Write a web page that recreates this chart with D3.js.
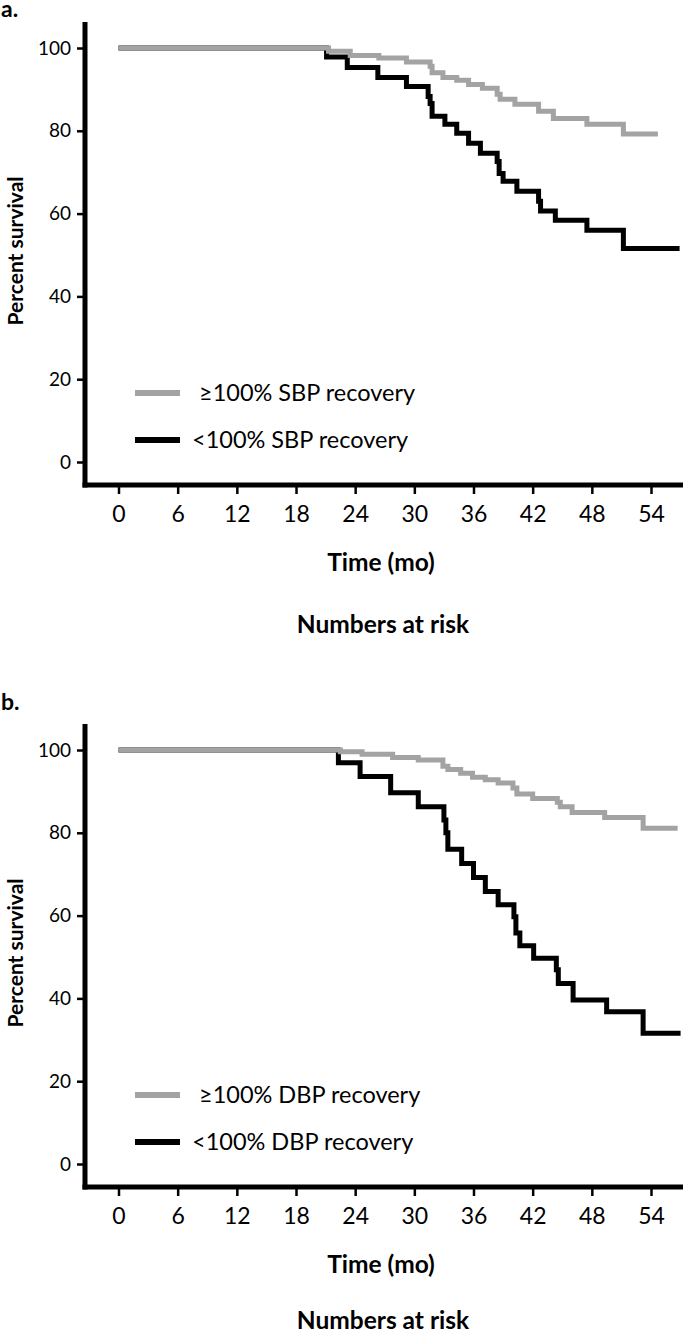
<!DOCTYPE html>
<html><head><meta charset="utf-8">
<script src="https://cdn.jsdelivr.net/npm/d3@7"></script>
<style>body{margin:0;background:#fff} svg{display:block} text{font-family:Lato,'Open Sans',sans-serif;fill:#000}</style>
</head><body><svg id="c" width="683" height="1334"></svg>
<script>
const monthTicks = [0,6,12,18,24,30,36,42,48,54];
const percentTicks = [0,20,40,60,80,100];

// Panel a: SBP recovery
const sbpHighTimes = [0,21.3,23.5,26.4,29.2,31.6,31.8,32.9,34.3,35.5,36.9,38.4,38.7,40.2,42.6,44.1,47.5,51.2,54.7];
const sbpHighValues = [100,99.2,98.2,97.6,96.6,95.6,94.0,92.9,92.2,91.2,90.3,88.8,87.6,86.4,84.7,83.0,81.6,79.2,79.2];
const sbpLowTimes = [0,21.1,23.2,26.3,29.2,31.4,31.6,31.8,33.1,34.3,35.5,36.7,38.4,38.6,39.0,40.4,42.6,42.8,44.3,47.5,51.2,56.9];
const sbpLowValues = [100,97.8,95.3,92.9,90.7,88.3,86.6,83.5,81.6,79.4,77.0,74.6,72.6,69.7,67.8,65.4,63.0,60.6,58.4,56.0,51.6,51.6];

// Panel b: DBP recovery
const dbpHighTimes = [0,22.5,24.7,27.8,30.4,32.9,33.4,34.7,35.9,37.2,38.5,40.0,40.4,42.0,44.5,44.8,46.0,49.3,53.2,56.7];
const dbpHighValues = [100,99.6,99.0,98.2,97.6,96.1,95.3,94.4,93.4,92.8,92.0,90.8,89.4,88.3,87.4,86.3,84.9,83.7,81.1,81.1];
const dbpLowTimes = [0,22.3,24.5,27.6,30.4,33.0,33.2,33.4,34.8,36.0,37.2,38.5,40.1,40.3,40.7,42.1,44.4,44.6,46.1,49.5,53.2,57.0];
const dbpLowValues = [100,96.9,93.6,89.7,86.3,83.1,80.0,76.0,72.6,69.2,65.8,62.6,59.7,55.8,52.7,49.7,46.9,43.6,39.6,36.8,31.6,31.6];

const GRAY = "#a3a3a3";
const svg = d3.select("#c");

function panel(oy, letter, letterBase, numbersBase, hiT, hiV, loT, loV, hiLabel, loLabel) {
  const g = svg.append("g").attr("transform", `translate(0,${oy})`);
  const x = d3.scaleLinear().domain([0,54]).range([118.5,651]);
  const y = d3.scaleLinear().domain([0,100]).range([462,48]);

  g.append("text").attr("x",1).attr("y",letterBase).attr("font-size",23).attr("font-weight","bold").text(letter);

  const xa = g.append("g").attr("transform","translate(0,485)")
    .call(d3.axisBottom(x).tickValues(monthTicks).tickSize(9).tickPadding(12).tickSizeOuter(0));
  xa.select(".domain").remove();
  xa.selectAll(".tick line").attr("stroke","#000").attr("stroke-width",2.5);
  xa.selectAll(".tick text").attr("font-size",23).attr("font-family","Lato");

  const ya = g.append("g").attr("transform","translate(85,0)")
    .call(d3.axisLeft(y).tickValues(percentTicks).tickSize(8).tickPadding(6).tickSizeOuter(0));
  ya.select(".domain").remove();
  ya.selectAll(".tick line").attr("stroke","#000").attr("stroke-width",2.5);
  ya.selectAll(".tick text").attr("font-size",19).attr("font-family","Lato");

  g.append("line").attr("x1",85).attr("x2",85).attr("y1",22).attr("y2",487.5).attr("stroke","#000").attr("stroke-width",5);
  g.append("line").attr("x1",82.5).attr("x2",683).attr("y1",485).attr("y2",485).attr("stroke","#000").attr("stroke-width",5);

  const line = d3.line().x(d=>x(d[0])).y(d=>y(d[1])).curve(d3.curveStepAfter);
  g.append("path").attr("d", line(loT.map((t,i)=>[t,loV[i]]))).attr("fill","none").attr("stroke","#000").attr("stroke-width",5);
  g.append("path").attr("d", line(hiT.map((t,i)=>[t,hiV[i]]))).attr("fill","none").attr("stroke",GRAY).attr("stroke-width",5);

  g.append("line").attr("x1",135).attr("x2",180).attr("y1",393).attr("y2",393).attr("stroke",GRAY).attr("stroke-width",6);
  g.append("text").attr("x",199).attr("y",393).attr("dy","0.35em").attr("font-size",23.5).text(hiLabel);
  g.append("line").attr("x1",135).attr("x2",180).attr("y1",440).attr("y2",440).attr("stroke","#000").attr("stroke-width",6);
  g.append("text").attr("x",192).attr("y",440).attr("dy","0.35em").attr("font-size",23.5).text(loLabel);

  g.append("text").attr("x",381).attr("y",571).attr("text-anchor","middle").attr("font-size",24.5).attr("font-weight","bold").text("Time (mo)");
  g.append("text").attr("x",383).attr("y",numbersBase).attr("text-anchor","middle").attr("font-size",24.5).attr("font-weight","bold").text("Numbers at risk");
  g.append("text").attr("transform","translate(23,251) rotate(-90)").attr("text-anchor","middle").attr("font-size",21).attr("font-weight","bold").text("Percent survival");
}

panel(0, "a.", 17, 633, sbpHighTimes, sbpHighValues, sbpLowTimes, sbpLowValues, "≥100% SBP recovery", "<100% SBP recovery");
panel(702, "b.", 8, 627, dbpHighTimes, dbpHighValues, dbpLowTimes, dbpLowValues, "≥100% DBP recovery", "<100% DBP recovery");
</script></body></html>
